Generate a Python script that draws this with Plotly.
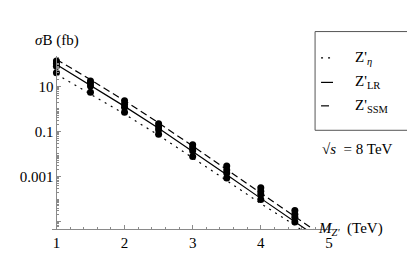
import plotly.graph_objects as go

# ---- data ----
mass_tev = [1.0, 1.5, 2.0, 2.5, 3.0, 3.5, 4.0, 4.5, 5.0]

# curves (fb)
sigma_eta = [35.0, 4.7, 0.59, 0.068, 0.0069, 6.6e-4, 6.3e-5, 6.9e-6, 5.5e-7]
sigma_lr = [95.0, 11.5, 1.3, 0.14, 0.0135, 1.2e-3, 1.07e-4, 1.0e-5, 9.0e-7]
sigma_ssm = [158.0, 20.0, 2.3, 0.24, 0.0224, 2.0e-3, 1.78e-4, 1.66e-5, 1.5e-6]

# computed points (fb), four per mass
point_mass = [1.0, 1.5, 2.0, 2.5, 3.0, 3.5, 4.0, 4.5]
points_a = [135.0, 17.5, 2.3, 0.22, 0.026, 2.9e-3, 3.2e-4, 3.1e-5]
points_b = [105.0, 14.0, 1.6, 0.16, 0.019, 1.95e-3, 2.2e-4, 2.1e-5]
points_c = [78.0, 10.5, 1.2, 0.12, 0.014, 1.45e-3, 1.6e-4, 1.55e-5]
points_d = [40.0, 5.5, 0.72, 0.075, 0.0078, 8.5e-4, 9.5e-5, 9.5e-6]

y_tick_vals = [1e1, 1e-1, 1e-3, 1e-5]
y_tick_text = ["10", "0.1", "0.001", ""]
x_tick_vals = [1, 2, 3, 4, 5]
x_tick_text = ["1", "2", "3", "4", "5"]

# ---- layout helpers ----
W, H = 415, 255
L, R, T, B = 43, 90, 48, 30
PW, PH = W - L - R, H - T - B
XMIN, XMAX = 0.935, 5.06
YMIN, YMAX = -5.33, 2.35


def px(xpix):
    return (xpix - L) / PW


def py(ypix):
    return (H - B - ypix) / PH


FONT = "Times New Roman, Liberation Serif, DejaVu Serif, serif"
BLACK = "#000000"
AXIS = "#8a8a8a"

fig = go.Figure()

line_specs = [
    (sigma_eta, "Z'η", "2px,5px"),
    (sigma_lr, "Z'LR", "solid"),
    (sigma_ssm, "Z'SSM", "7px,4px"),
]
for ys, name, dash in line_specs:
    fig.add_trace(go.Scatter(
        x=mass_tev, y=ys, mode="lines", name=name,
        line=dict(color=BLACK, width=1.2, dash=dash),
        showlegend=False, hoverinfo="skip",
    ))

for ys in (points_a, points_b, points_c, points_d):
    fig.add_trace(go.Scatter(
        x=point_mass, y=ys, mode="markers",
        marker=dict(color=BLACK, size=7),
        showlegend=False, cliponaxis=False,
    ))

# minor ticks on the log axis
minor_y = []
for e in range(-6, 3):
    for m in range(1, 10):
        v = m * 10 ** e
        if v not in y_tick_vals:
            minor_y.append(v)

ypos = (1 - XMIN) / (XMAX - XMIN)

fig.update_layout(
    width=W, height=H,
    margin=dict(l=L, r=R, t=T, b=B),
    paper_bgcolor="white", plot_bgcolor="white",
    font=dict(family=FONT, size=15, color=BLACK),
    xaxis=dict(
        range=[XMIN, XMAX], showgrid=False, zeroline=False,
        showline=True, linecolor=AXIS, linewidth=1,
        tickmode="array", tickvals=x_tick_vals, ticktext=x_tick_text,
        ticks="inside", ticklen=4, tickcolor=AXIS, tickwidth=1,
        minor=dict(dtick=0.2, ticks="inside", ticklen=2, tickcolor=AXIS, showgrid=False),
        tickfont=dict(family=FONT, size=15, color=BLACK),
    ),
    yaxis=dict(
        type="log", range=[YMIN, YMAX], showgrid=False, zeroline=False,
        anchor="free", position=ypos,
        showline=True, linecolor=AXIS, linewidth=1,
        tickmode="array", tickvals=y_tick_vals, ticktext=y_tick_text,
        ticks="inside", ticklen=4, tickcolor=AXIS, tickwidth=1,
        minor=dict(tickvals=minor_y, ticks="inside", ticklen=2, tickcolor=AXIS, showgrid=False),
        tickfont=dict(family=FONT, size=15, color=BLACK),
    ),
)

ann = []
ann.append(dict(x=px(24), y=py(32), text="<i>σ</i>B (fb)", xanchor="left", yanchor="middle"))
ann.append(dict(x=px(308), y=py(225), text="<i>M</i><sub><i>Z'</i></sub>  (TeV)", xanchor="left", yanchor="middle"))
ann.append(dict(x=px(312), y=py(143), text="√<i>s</i>  = 8 TeV", xanchor="left", yanchor="middle"))
ann.append(dict(x=px(345), y=py(50), text="Z'<sub><i>η</i></sub>", xanchor="left", yanchor="middle"))
ann.append(dict(x=px(345), y=py(75), text="Z'<sub>LR</sub>", xanchor="left", yanchor="middle"))
ann.append(dict(x=px(345), y=py(99), text="Z'<sub>SSM</sub>", xanchor="left", yanchor="middle"))
for a in ann:
    a.update(xref="paper", yref="paper", showarrow=False,
             font=dict(family=FONT, size=15, color=BLACK))
fig.update_layout(annotations=ann)

shapes = [
    dict(type="rect", xref="paper", yref="paper",
         x0=px(307), x1=px(406), y0=py(124), y1=py(23),
         line=dict(color="#555555", width=1)),
    dict(type="line", xref="paper", yref="paper", x0=px(313), x1=px(324), y0=py(50), y1=py(50),
         line=dict(color=BLACK, width=1.2, dash="2px,5px")),
    dict(type="line", xref="paper", yref="paper", x0=px(313), x1=px(325), y0=py(75), y1=py(75),
         line=dict(color=BLACK, width=1.2)),
    dict(type="line", xref="paper", yref="paper", x0=px(313), x1=px(321), y0=py(99), y1=py(99),
         line=dict(color=BLACK, width=1.2)),
]
fig.update_layout(shapes=shapes)

fig.write_html("out.html")
